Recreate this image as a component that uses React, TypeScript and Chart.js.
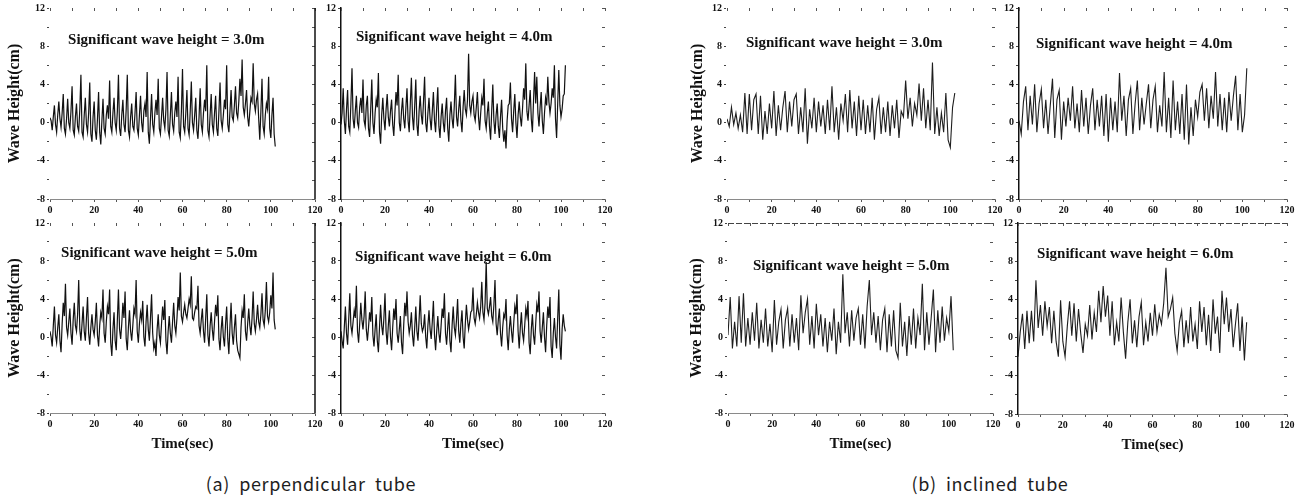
import React, { useEffect, useRef } from 'react';
import { Chart, registerables } from 'chart.js';

Chart.register(...registerables);

// ---------- data ----------
const PERP_STEP_SEC = 0.5;
const INCL_STEP_SEC = 1;
const X_TICK_LABELS = [0, 20, 40, 60, 80, 100, 120];
const Y_TICK_LABELS = [-8, -4, 0, 4, 8, 12];
const X_AXIS_TITLE = 'Time(sec)';
const Y_AXIS_TITLE = 'Wave Height(cm)';
const CAPTION_A = '(a)  perpendicular  tube';
const CAPTION_B = '(b)  inclined  tube';
const LABEL_3 = 'Significant wave height = 3.0m';
const LABEL_4 = 'Significant wave height = 4.0m';
const LABEL_5 = 'Significant wave height = 5.0m';
const LABEL_6 = 'Significant wave height = 6.0m';

// perpendicular tube (0.5 s samples)
const PERP_3M = [
  0.5, 0.2, -0.8, 0.6, 1.8, -0.2, -1.0, 0.8, 2.2, 0.4, -0.5, 1.0, 3.0, -0.6, -1.2, 0.4, 2.5, 0.0, -0.6, 1.2,
  3.8, -0.8, -1.3, 0.6, 2.0, -0.4, -0.9, 1.4, 5.0, -1.0, -1.5, 0.8, 2.6, -0.2, -1.0, 1.0, 4.2, -1.2, -2.0, 0.6,
  2.2, -0.8, -1.8, 0.4, 3.2, -1.0, -2.3, 0.2, 2.5, -0.6, -1.2, 0.8, 1.8, 0.4, 4.4, -0.4, -1.0, 1.0, 2.6, 0.0,
  -0.8, 1.2, 5.0, -0.6, -1.4, 0.8, 2.4, -0.2, -1.0, 1.4, 5.0, -0.8, -1.5, 0.6, 2.0, -0.4, -0.8, 1.0, 3.2, -0.6,
  -1.3, 0.8, 2.8, 0.0, -1.0, 1.2, 2.0, 0.6, 5.3, -1.0, -2.2, 0.4, 3.0, -0.2, -1.0, 1.0, 2.4, 0.8, 4.6, -0.6,
  -1.2, 0.6, 2.6, 0.2, -0.6, 1.4, 5.3, -0.8, -1.4, 0.8, 3.2, -0.2, -0.9, 1.0, 2.2, 0.6, 4.8, -1.0, -1.6, 1.2,
  5.6, -0.4, -1.0, 1.0, 3.4, -0.6, -1.3, 1.2, 4.3, 0.0, -0.8, 0.8, 2.6, -0.8, -1.7, 0.6, 3.6, -0.2, -1.0, 1.0,
  2.4, 1.2, 6.0, -0.8, -1.5, 0.8, 3.0, -0.2, -1.0, 1.0, 2.8, -0.6, -1.4, 1.2, 4.2, 0.2, -0.6, 0.8, 2.4, 1.4,
  6.0, -0.2, -1.0, 1.2, 3.4, 0.6, 0.2, 1.8, 3.8, 1.0, 0.5, 2.2, 4.6, 2.8, 6.6, 1.6, 0.8, 2.0, 3.4, 0.6,
  -0.4, 1.2, 2.6, 2.2, 6.2, 2.0, 1.2, 2.4, 3.0, 0.4, -1.8, 1.2, 4.6, -0.4, -1.2, 0.8, 2.0, 1.4, 4.8, -0.6,
  -1.6, 0.8, 2.6, -1.2, -2.5,
];
const PERP_4M = [
  -0.2, 1.0, 3.6, 0.2, -1.2, 1.4, 3.4, -0.4, -1.0, 2.0, 5.7, 0.4, -0.6, 1.2, 2.8, 0.0, -0.5, 1.6, 2.6, 1.0,
  4.5, 0.2, -0.4, 1.8, 2.8, -0.6, -1.5, 1.4, 4.5, 0.0, -1.2, 1.0, 2.4, 1.6, 5.2, -1.0, -2.2, 0.8, 2.6, 0.4,
  -0.8, 1.4, 3.0, 0.6, -0.4, 1.2, 2.4, -0.2, -1.4, 1.0, 3.2, 1.8, 5.0, 0.0, -0.9, 1.2, 2.6, 0.4, -0.6, 1.6,
  3.6, 0.2, -1.0, 2.0, 4.7, 0.6, -0.8, 1.8, 4.5, -0.2, -1.4, 1.2, 2.8, 0.8, -0.2, 2.2, 4.8, 0.0, -1.0, 1.0,
  2.6, 0.4, -0.8, 1.2, 3.2, 0.2, -1.0, 1.6, 3.7, -0.4, -1.6, 0.6, 2.0, 0.0, -1.0, 1.2, 2.6, -0.6, -2.0, 0.8,
  2.2, 0.4, -0.6, 1.8, 5.0, 0.6, -0.4, 1.4, 2.8, 0.2, -1.0, 1.6, 3.4, 1.4, 0.8, 2.4, 7.2, 1.8, 1.0, 2.2,
  2.8, 0.8, 0.2, 1.6, 3.2, 0.6, -0.8, 1.0, 2.6, 1.8, 4.6, 0.2, -0.6, 1.0, 2.2, -0.4, -1.8, 1.2, 4.0, 0.2,
  -1.2, 0.8, 2.0, -0.4, -1.6, 0.6, 2.4, -0.6, -2.0, -0.8, -2.7, 0.2, 1.8, 2.0, 4.2, 0.4, -1.0, 1.2, 3.0, 0.0,
  -1.6, 0.8, 2.2, 0.6, -0.4, 1.4, 3.6, 2.4, 6.2, 1.2, 0.2, 1.8, 3.4, 0.4, -1.0, 2.2, 5.3, 2.0, 4.8, 1.0,
  -0.4, 1.6, 3.2, 0.2, -1.2, 1.0, 2.6, 1.8, 4.8, 2.2, 1.0, 2.0, 3.6, 2.6, 6.0, 0.4, -1.6, 2.0, 5.5, 1.8,
  0.6, 1.4, 2.8, 3.0, 6.0,
];
const PERP_5M = [
  0.6, 0.0, -1.0, 1.2, 3.2, 0.2, -0.6, 1.0, 2.4, -0.4, -1.6, 1.4, 3.6, 2.2, 5.6, 1.0, 0.2, 1.6, 3.0, 0.4,
  -0.8, 1.8, 3.6, 1.2, 0.6, 2.4, 6.0, 0.8, -0.4, 1.4, 3.2, 0.6, -0.4, 2.0, 4.2, 0.4, -0.8, 1.0, 2.4, 0.8,
  0.2, 1.6, 3.6, 0.2, -1.0, 1.2, 2.6, 2.0, 5.0, 0.4, -0.6, 1.6, 3.2, 2.4, 5.0, -0.6, -2.0, 0.8, 2.6, -0.4,
  -1.4, 1.8, 5.0, 0.8, -0.2, 1.4, 3.6, 2.0, 4.8, -0.2, -1.4, 1.0, 2.8, 0.6, -0.4, 1.2, 3.0, 2.4, 6.0, 0.6,
  -0.6, 1.4, 2.6, 1.8, 3.8, 0.0, -1.0, 1.6, 3.4, 0.8, -0.4, 2.0, 4.5, 0.4, -1.2, -0.6, -2.0, 0.8, 2.4, 0.2,
  -0.6, 1.4, 3.2, 1.8, 3.9, -0.4, -1.8, 0.6, 2.2, 0.4, -0.6, 1.6, 3.6, 1.2, 0.4, 2.0, 4.2, 2.8, 6.8, 2.2,
  1.6, 2.6, 3.4, 2.4, 2.0, 3.0, 4.0, 3.4, 6.4, 2.0, 1.8, 2.6, 3.2, 3.0, 5.4, 1.2, 0.4, 1.8, 3.0, 0.6,
  -0.6, 2.0, 4.5, 0.2, -1.0, 1.2, 2.6, 0.8, -0.4, 1.6, 3.4, 2.2, 4.4, -0.2, -1.4, 0.8, 2.2, 0.0, -1.0, 1.4,
  3.2, -0.2, -1.8, 1.2, 3.6, 0.4, -0.8, 1.0, 2.4, -0.4, -1.4, -1.8, -2.2, 1.0, 2.8, 2.0, 4.5, 0.6, -0.4, 1.4,
  3.0, 1.2, 0.2, 2.0, 4.8, 1.4, 0.6, 1.8, 3.4, 1.6, 1.0, 2.4, 4.6, 1.8, 1.2, 2.8, 5.8, 2.2, 1.6, 2.6,
  4.4, 3.0, 6.8, 1.8, 0.8,
];
const PERP_6M = [
  0.6, -0.4, -1.2, 1.0, 3.2, 0.4, -0.8, 1.8, 4.6, 1.2, 0.4, 1.6, 2.8, 2.0, 5.4, 0.6, -0.6, 1.4, 3.6, 1.8,
  0.8, 2.2, 4.8, 0.8, -0.4, 1.0, 2.6, 1.6, 4.2, 0.2, -1.0, 0.8, 2.4, -0.4, -1.6, 1.0, 3.4, 1.2, 0.2, 2.0,
  4.6, 0.6, -0.8, 1.2, 2.8, 0.0, -1.4, 1.0, 3.0, 1.8, 4.0, 0.4, -0.6, 0.8, 2.2, -0.6, -1.8, 1.2, 3.6, 2.2,
  4.8, 1.6, 0.4, 1.2, 2.6, 0.2, -1.0, 1.0, 3.2, 0.6, -0.4, 1.8, 4.4, 1.4, 0.6, 1.0, 2.4, 0.0, -1.2, 1.2,
  2.8, 0.8, -0.2, 1.6, 3.8, 0.2, -1.4, 0.6, 2.2, 0.4, -0.6, 1.2, 3.0, 2.0, 4.6, 0.4, -0.8, 1.0, 2.6, -0.4,
  -1.6, 1.2, 3.2, 1.0, 0.2, 1.8, 4.0, 0.6, -0.6, 1.4, 2.8, 0.0, -1.2, 1.4, 3.4, 1.8, 0.8, 1.6, 2.6, 2.8,
  5.2, 2.0, 1.4, 2.4, 3.6, 2.6, 2.0, 3.2, 5.8, 2.6, 1.8, 3.6, 7.9, 3.0, 2.4, 3.2, 4.2, 2.2, 1.6, 3.4,
  6.0, 1.4, 0.2, 1.8, 3.0, 0.4, -1.0, 1.0, 2.4, 2.0, 4.0, 0.2, -1.4, 0.8, 2.2, 0.6, -0.6, 1.4, 3.2, 2.4,
  4.5, 0.6, -1.2, 1.0, 2.6, 0.4, -0.4, 1.2, 3.0, 2.2, 3.8, -0.6, -1.8, 0.8, 2.4, 0.2, -0.8, 1.4, 3.4, 2.6,
  4.8, 0.6, -0.6, 1.0, 2.6, 0.0, -1.6, 1.2, 3.2, 2.0, 4.2, -1.0, -2.2, 0.4, 2.0, 0.0, -1.2, 2.0, 5.0, -0.8,
  -2.4, 0.8, 2.4, 1.2, 0.6,
];

// inclined tube (1 s samples)
const INCL_3M = [0.4, -0.4, 1.6, -0.2, 1.0, -0.6, 0.8, -1.0, 3.1, -1.2, 3.0, -0.8, 2.4, 3.0, -1.2, 2.8, -1.8, 1.2, -1.2, 2.0,
  -0.6, 3.3, -1.4, 1.8, -0.8, 1.6, 3.3, -1.0, 2.2, -0.4, 2.4, 3.0, -1.2, 1.6, -1.0, 3.6, -2.2, 1.4, -0.6, 2.6,
  -1.0, 2.2, -0.4, 1.8, -1.2, 2.4, -0.8, 3.8, -1.0, 1.6, -1.8, 2.0, 0.2, 3.0, -1.0, 3.4, -0.6, 2.2, -1.4, 2.8,
  -0.8, 2.4, -1.2, 1.8, -1.0, 2.6, -1.8, 1.4, 2.6, -1.2, 1.6, -1.0, 2.2, -1.4, 1.8, -0.6, 2.4, -1.6, 1.2, 0.6,
  4.4, 0.4, 2.6, -0.4, 2.0, 0.8, 4.1, 0.2, 3.6, -0.6, 2.4, -0.8, 6.3, -1.2, 1.6, -1.4, 1.0, -1.0, 3.1, -1.8,
  -2.6, 1.6, 3.1];
const INCL_4M = [0.2, -1.2, 2.2, 3.8, -0.8, 2.8, -0.2, 4.0, -1.0, 2.0, 3.5, -0.6, 2.4, -1.2, 1.8, 4.6, -1.6, 2.4, 3.4, -1.8,
  2.2, -0.4, 2.6, 0.2, 3.8, -0.6, 2.0, -1.0, 3.4, -0.4, 2.6, -1.2, 1.8, 3.6, -0.8, 2.4, -0.4, 2.8, -1.4, 3.0,
  -2.0, 2.6, -0.8, 2.2, -1.0, 5.2, 0.2, 2.8, -1.4, 2.4, 3.6, -1.2, 2.0, 4.4, -0.8, 2.6, -0.2, 2.0, 4.0, -0.6,
  2.4, 3.8, -1.0, 1.8, -0.4, 5.3, -1.0, 2.6, -1.6, 4.4, -0.8, 2.2, -1.2, 3.0, -1.8, 4.0, -2.3, 1.6, -1.4, 2.4,
  0.6, 3.2, 4.0, 0.2, 3.6, -0.6, 2.8, 0.4, 5.3, -0.4, 3.0, -0.8, 2.6, -1.0, 3.2, 0.2, 2.8, 4.9, -0.8, 3.0,
  -1.0, 0.8, 5.7];
const INCL_5M = [0.2, 4.2, -1.2, 1.6, -1.0, 4.3, -0.6, 4.6, -1.0, 2.0, -0.8, 2.6, -0.4, 3.6, -1.2, 1.8, -0.6, 3.0, -1.0, 1.4,
  -1.6, 3.9, -0.8, 1.6, 2.9, -1.2, 1.8, 3.0, -1.0, 2.4, -0.6, 2.0, -1.4, 4.4, 0.4, 2.6, 4.0, -0.8, 2.2, -1.2,
  3.5, 0.2, 2.4, -1.0, 2.0, -1.6, 1.6, -0.4, 3.0, -1.8, 1.6, -0.6, 6.6, 0.4, 2.6, -1.0, 2.8, -0.4, 2.0, 3.0,
  -0.8, 2.4, -1.2, 3.2, 6.0, 0.2, 2.6, -0.6, 2.2, -1.4, 1.8, 3.0, -1.6, 2.4, -1.0, 2.8, -1.4, -2.2, 3.6, -1.0,
  1.6, -2.0, 2.2, -0.8, 3.0, -1.2, 2.0, 0.2, 5.6, -1.4, 2.6, -0.8, 2.0, 5.0, -1.6, 2.8, -0.6, 3.2, -0.4, 2.0,
  0.6, 4.3, -1.4];
const INCL_6M = [-2.0, 0.6, 2.5, -1.2, 2.8, -0.6, 2.8, -0.4, 6.0, 1.0, 3.4, 0.2, 3.8, 1.2, 3.2, -0.6, 2.8, -0.4, -2.0, 3.9,
  -0.4, -2.0, 1.2, 3.8, 0.2, 3.6, -0.4, 3.0, 0.4, -1.6, 1.4, 0.2, 3.4, -0.2, 2.6, 0.6, 4.9, 1.6, 5.4, 2.2,
  4.4, 0.2, 3.8, -0.8, 1.6, -0.4, 4.2, 0.6, -2.2, 1.6, 4.0, -0.6, 1.8, -1.0, 2.2, 3.7, -0.8, 1.6, -0.4, 2.6,
  0.2, 3.5, 0.6, 2.4, 1.4, 3.6, 7.3, 2.2, 3.0, 4.2, 0.4, -1.4, 1.6, 2.8, -1.0, 1.8, -0.6, 3.2, -0.4, 1.4,
  -1.2, 3.8, 0.6, 3.2, -0.8, 2.4, -1.4, 4.0, 0.4, 2.2, -1.6, 4.9, 1.4, 4.2, 0.6, 3.0, -1.0, 1.4, 3.6, -1.4,
  2.2, -2.4, 1.6];

// ---------- layout / style ----------
const SERIF = '"Liberation Serif", "Times New Roman", serif';
const L = 48;
const R = 14;

type PanelCfg = {
  key: string;
  series: number[];
  step: number;
  label: string;
  labelAt: [number, number];
  plot: { l: number; t: number; r: number; b: number };
  yTitle: boolean;
  yTitleX: number;
  xTitle: boolean;
  leftLine: boolean;
  rightLine: boolean;
  topLine: boolean;
  color: string;
  lineWidth: number;
};

const PANELS: PanelCfg[] = [
  { key: 'a3', series: PERP_3M, step: PERP_STEP_SEC, label: LABEL_3, labelAt: [8.2, 8.6], plot: { l: 50, t: 7, r: 315, b: 199 }, yTitle: true, yTitleX: 15, xTitle: false, leftLine: false, rightLine: true, topLine: false, color: '#111', lineWidth: 1.2 },
  { key: 'a4', series: PERP_4M, step: PERP_STEP_SEC, label: LABEL_4, labelAt: [6.8, 9.0], plot: { l: 341, t: 7, r: 605, b: 199 }, yTitle: false, yTitleX: 0, xTitle: false, leftLine: true, rightLine: false, topLine: false, color: '#111', lineWidth: 1.2 },
  { key: 'a5', series: PERP_5M, step: PERP_STEP_SEC, label: LABEL_5, labelAt: [5.0, 8.8], plot: { l: 50, t: 223, r: 315, b: 413 }, yTitle: true, yTitleX: 15, xTitle: true, leftLine: false, rightLine: true, topLine: false, color: '#111', lineWidth: 1.2 },
  { key: 'a6', series: PERP_6M, step: PERP_STEP_SEC, label: LABEL_6, labelAt: [6.4, 8.4], plot: { l: 341, t: 223, r: 605, b: 413 }, yTitle: false, yTitleX: 0, xTitle: true, leftLine: true, rightLine: false, topLine: false, color: '#111', lineWidth: 1.2 },
  { key: 'b3', series: INCL_3M, step: INCL_STEP_SEC, label: LABEL_3, labelAt: [8.5, 8.3], plot: { l: 727, t: 7, r: 995, b: 199 }, yTitle: true, yTitleX: 698, xTitle: false, leftLine: false, rightLine: false, topLine: false, color: '#1e1e1e', lineWidth: 1.1 },
  { key: 'b4', series: INCL_4M, step: INCL_STEP_SEC, label: LABEL_4, labelAt: [7.6, 8.2], plot: { l: 1019, t: 7, r: 1287, b: 199 }, yTitle: false, yTitleX: 0, xTitle: false, leftLine: true, rightLine: false, topLine: false, color: '#1e1e1e', lineWidth: 1.1 },
  { key: 'b5', series: INCL_5M, step: INCL_STEP_SEC, label: LABEL_5, labelAt: [11.3, 7.5], plot: { l: 728, t: 223, r: 993, b: 413 }, yTitle: true, yTitleX: 697, xTitle: true, leftLine: false, rightLine: false, topLine: true, color: '#1e1e1e', lineWidth: 1.1 },
  { key: 'b6', series: INCL_6M, step: INCL_STEP_SEC, label: LABEL_6, labelAt: [8.5, 8.7], plot: { l: 1018, t: 223, r: 1287, b: 414 }, yTitle: false, yTitleX: 0, xTitle: true, leftLine: true, rightLine: false, topLine: true, color: '#1e1e1e', lineWidth: 1.1 },
];

const annotPlugin = {
  id: 'annot',
  afterDatasetsDraw(chart: any, _args: any, opts: any) {
    const { ctx, scales } = chart;
    ctx.save();
    ctx.font = `bold 15px ${SERIF}`;
    ctx.fillStyle = '#111';
    ctx.textAlign = 'left';
    ctx.textBaseline = 'middle';
    ctx.fillText(opts.text, scales.x.getPixelForValue(opts.x), scales.y.getPixelForValue(opts.y));
    ctx.restore();
  },
};

const framePlugin = {
  id: 'frame',
  afterDraw(chart: any, _args: any, opts: any) {
    const { ctx, chartArea: a, scales } = chart;
    ctx.save();
    ctx.strokeStyle = '#555';
    ctx.lineWidth = 1;
    ctx.beginPath();
    scales.x.ticks.forEach((t: any) => {
      const px = Math.round(scales.x.getPixelForValue(t.value)) + 0.5;
      ctx.moveTo(px, a.top);
      ctx.lineTo(px, a.top + 3);
    });
    scales.y.ticks.forEach((t: any) => {
      const py = Math.round(scales.y.getPixelForValue(t.value)) + 0.5;
      ctx.moveTo(a.right - 3, py);
      ctx.lineTo(a.right, py);
    });
    ctx.stroke();
    if (opts.rightLine) {
      ctx.strokeStyle = '#111';
      ctx.lineWidth = 1.5;
      ctx.beginPath();
      ctx.moveTo(a.right, a.top);
      ctx.lineTo(a.right, a.bottom);
      ctx.stroke();
    }
    if (opts.topLine) {
      ctx.strokeStyle = '#444';
      ctx.lineWidth = 1;
      ctx.setLineDash([6, 2]);
      ctx.beginPath();
      ctx.moveTo(a.left, a.top + 0.5);
      ctx.lineTo(a.right, a.top + 0.5);
      ctx.stroke();
    }
    ctx.restore();
  },
};

function Panel({ cfg }: { cfg: PanelCfg }) {
  const ref = useRef<HTMLCanvasElement>(null);
  const T = cfg.plot.t < 10 ? cfg.plot.t : 8;
  const B = cfg.xTitle ? 44 : 18;
  const width = cfg.plot.r - cfg.plot.l + L + R;
  const height = cfg.plot.b - cfg.plot.t + T + B;
  const left = cfg.plot.l - L;
  const top = cfg.plot.t - T;

  useEffect(() => {
    if (!ref.current) return;
    const tickFont = { family: SERIF, size: 10, weight: 'bold' as const };
    const yTitlePad = Math.max(0, cfg.yTitleX - left - 9.5);
    const chart = new Chart(ref.current, {
      type: 'line',
      data: {
        datasets: [
          {
            data: cfg.series.map((v, i) => ({ x: i * cfg.step, y: v })),
            borderColor: cfg.color,
            borderWidth: cfg.lineWidth,
            pointRadius: 0,
            tension: 0,
            fill: false,
          },
        ],
      },
      options: {
        animation: false,
        responsive: false,
        events: [],
        layout: { padding: { top: T, right: R, left: 0, bottom: 0 } },
        plugins: {
          legend: { display: false },
          tooltip: { enabled: false },
          annot: { text: cfg.label, x: cfg.labelAt[0], y: cfg.labelAt[1] },
          frame: { rightLine: cfg.rightLine, topLine: cfg.topLine },
        } as any,
        scales: {
          x: {
            type: 'linear',
            min: 0,
            max: 120,
            ticks: {
              stepSize: 10,
              autoSkip: false,
              maxRotation: 0,
              font: tickFont,
              color: '#111',
              padding: 2,
              callback: (v: any) => (X_TICK_LABELS.includes(Number(v)) ? String(v) : ''),
            },
            grid: { display: true, drawOnChartArea: false, drawTicks: true, tickLength: 3, color: '#555' },
            border: { display: true, color: '#8a8a8a', dash: [5, 2], width: 1 },
            title: {
              display: cfg.xTitle,
              text: X_AXIS_TITLE,
              font: { family: SERIF, size: 15, weight: 'bold' },
              color: '#111',
              padding: { top: 0, bottom: 4 },
            },
            afterFit: (s: any) => {
              s.height = B;
            },
          },
          y: {
            type: 'linear',
            min: -8,
            max: 12,
            ticks: {
              stepSize: 2,
              autoSkip: false,
              font: tickFont,
              color: '#111',
              padding: 2,
              callback: (v: any) => (Y_TICK_LABELS.includes(Number(v)) ? String(v) : ''),
            },
            grid: { display: true, drawOnChartArea: false, drawTicks: true, tickLength: 3, color: '#444' },
            border: { display: true, color: cfg.leftLine ? '#111' : 'rgba(0,0,0,0)', width: 1.5 },
            title: {
              display: cfg.yTitle,
              text: Y_AXIS_TITLE,
              font: { family: SERIF, size: 16, weight: 'bold' },
              color: '#111',
              padding: { top: yTitlePad, bottom: 0 },
            },
            afterFit: (s: any) => {
              s.width = L;
            },
          },
        },
      } as any,
      plugins: [annotPlugin, framePlugin],
    });
    return () => chart.destroy();
  }, []);

  return (
    <canvas
      ref={ref}
      width={width}
      height={height}
      style={{ position: 'absolute', left, top, width, height }}
    />
  );
}

const captionStyle = (cx: number): React.CSSProperties => ({
  position: 'absolute',
  left: cx - 200,
  top: 470,
  width: 400,
  textAlign: 'center',
  fontFamily: '"Noto Sans CJK KR", "Noto Sans", sans-serif',
  fontSize: 18,
  letterSpacing: '0.6px',
  lineHeight: '26px',
  color: '#1e1e1e',
  whiteSpace: 'pre',
});

export default function App() {
  return (
    <div style={{ position: 'absolute', left: 0, top: 0, width: 1303, height: 497, background: '#fff', overflow: 'hidden' }}>
      {PANELS.map((p) => (
        <Panel key={p.key} cfg={p} />
      ))}
      <div style={captionStyle(311)}>{CAPTION_A}</div>
      <div style={captionStyle(990)}>{CAPTION_B}</div>
    </div>
  );
}
